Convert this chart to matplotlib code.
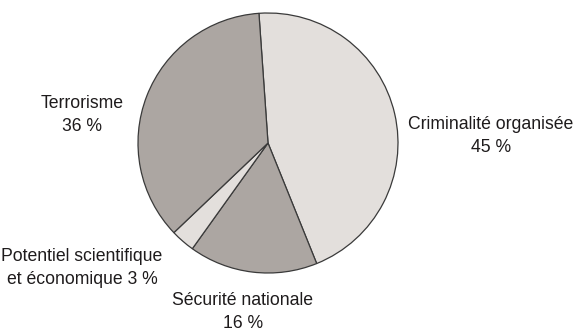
import matplotlib
matplotlib.use("Agg")
import matplotlib.pyplot as plt

# parts in %, clockwise from the top
categories = ["Criminalité organisée", "Sécurité nationale",
              "Potentiel scientifique et économique", "Terrorisme"]
values = [45, 16, 3, 36]
labels = ["Criminalité organisée\n45 %", "Sécurité nationale\n16 %",
          "Potentiel scientifique\net économique 3 %", "Terrorisme\n36 %"]

light = "#e3dfdc"
dark = "#aca6a2"
colors = [light, dark, light, dark]

# label anchors in pixels (x, y from top)
label_pos = [(491, 136), (243, 312), (82, 268), (82, 115)]

W, H = 579, 333
fig = plt.figure(figsize=(W / 100, H / 100), dpi=100)
ax = fig.add_axes([0, 0, 1, 1])
ax.set_xlim(0, W)
ax.set_ylim(0, H)
ax.set_aspect("equal")
ax.axis("off")

ax.pie(values, colors=colors, startangle=94, counterclock=False,
       center=(268, H - 143), radius=130,
       wedgeprops=dict(edgecolor="#3a3a3a", linewidth=0.9))
ax.set_xlim(0, W)
ax.set_ylim(0, H)

for lab, (x, y) in zip(labels, label_pos):
    ax.text(x, H - y, lab, ha="center", va="center", fontsize=12.7,
            family=["Liberation Sans", "DejaVu Sans"],
            color="#1e1b1c", linespacing=1.4, multialignment="center")

fig.savefig("out.png", dpi=100)
